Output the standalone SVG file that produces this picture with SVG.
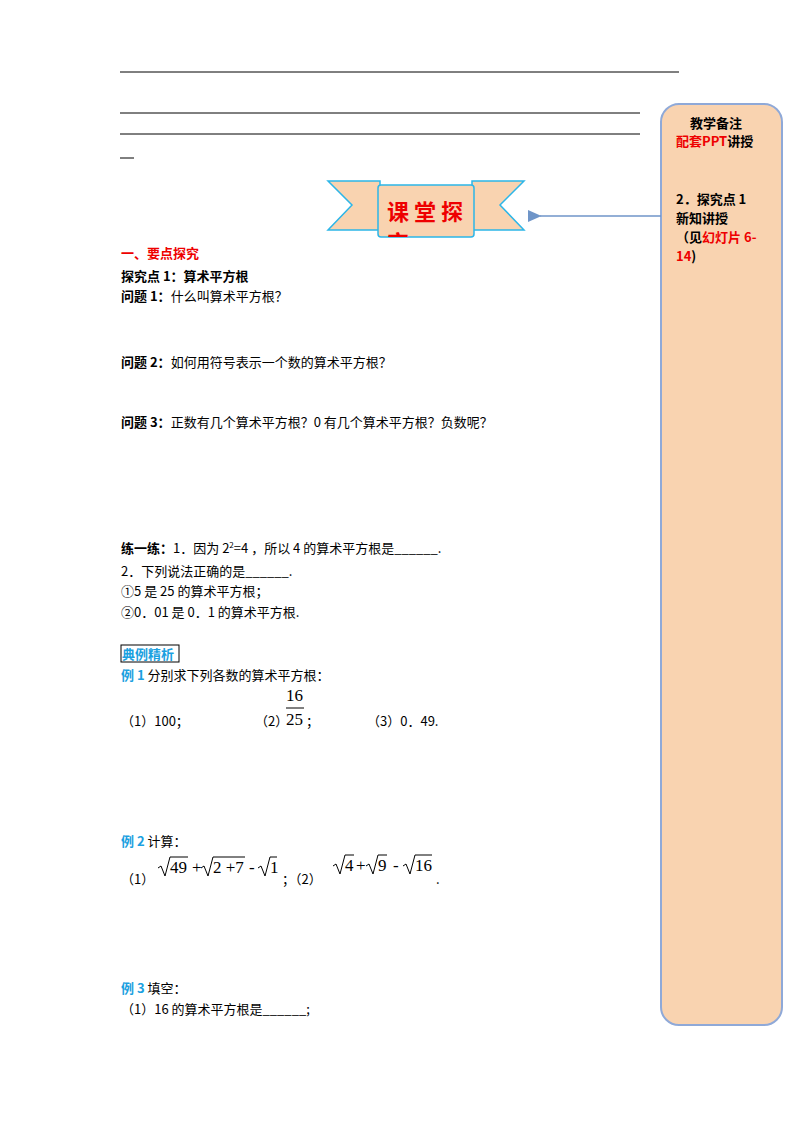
<svg xmlns="http://www.w3.org/2000/svg" width="800" height="1132" viewBox="0 0 800 1132">
<style>
.t{font-family:"Noto Sans CJK SC","Liberation Sans",sans-serif;font-size:13px;fill:#000}
.b{font-weight:bold}
.r{fill:#e00}
.c{fill:#1aa0e0;font-weight:bold}
.m{font-family:"Liberation Serif",serif;font-size:17px}
.ln{stroke:#000;stroke-width:1}
.sq{fill:none;stroke:#000;stroke-width:1}
</style>
<defs><marker id="a" markerWidth="10" markerHeight="8" refX="1" refY="4" orient="auto"><path d="M9,0 L0,4 L9,8 Z" fill="#6f95c8"/></marker>
<clipPath id="cl"><rect x="380" y="229" width="90" height="8"/></clipPath></defs>
<rect width="800" height="1132" fill="#fff"/>
<line class="ln" x1="120" y1="72" x2="679" y2="72" stroke-width="1.5"/>
<line class="ln" x1="120" y1="113" x2="640" y2="113"/>
<line class="ln" x1="120" y1="134" x2="640" y2="134"/>
<line class="ln" x1="120" y1="158" x2="134" y2="158"/>
<g id="sidebar">
<rect x="661" y="104" width="121" height="921" rx="18" fill="#f9d3b0" stroke="#8fa9d8" stroke-width="2"/>
<text class="t b" x="690" y="128">教学备注</text>
<text class="t b" x="676" y="146"><tspan class="r">配套</tspan><tspan class="r">PPT</tspan>讲授</text>
<text class="t b" x="676" y="204">2．探究点 1</text>
<text class="t b" x="676" y="223">新知讲授</text>
<text class="t b" x="676" y="242">（见<tspan class="r">幻灯片 6-</tspan></text>
<text class="t b" x="676" y="261"><tspan class="r">14</tspan>)</text>
</g>
<g id="banner">
<path d="M328,181 L380,181 L380,230 L328,230 L352,205 Z" fill="#f9d3b0" stroke="#2db6e8" stroke-width="1.5"/>
<path d="M524,181 L472,181 L472,230 L524,230 L500,205 Z" fill="#f9d3b0" stroke="#2db6e8" stroke-width="1.5"/>
<rect x="378" y="185" width="96" height="52" rx="3" fill="#f9d3b0" stroke="#2db6e8" stroke-width="1.5"/>
<text x="387" y="220" font-family="Noto Sans CJK SC,sans-serif" font-size="22" font-weight="bold" fill="#e00" letter-spacing="5">课堂探</text>
<text x="387" y="251" font-family="Noto Sans CJK SC,sans-serif" font-size="22" font-weight="bold" fill="#e00" clip-path="url(#cl)">究</text>
</g>
<g id="connectors"><line x1="661" y1="216" x2="540" y2="216" stroke="#6f95c8" stroke-width="1.5" marker-end="url(#a)"/></g>
<text class="t b r" x="121" y="258">一、要点探究</text>
<text class="t b" x="121" y="281">探究点 1：算术平方根</text>
<text class="t" x="121" y="301"><tspan class="b">问题 1：</tspan>什么叫算术平方根？</text>
<text class="t" x="121" y="367"><tspan class="b">问题 2：</tspan>如何用符号表示一个数的算术平方根？</text>
<text class="t" x="121" y="427"><tspan class="b">问题 3：</tspan>正数有几个算术平方根？0 有几个算术平方根？负数呢？</text>
<text class="t" x="121" y="553"><tspan class="b">练一练：</tspan>1．因为 2<tspan font-size="8" dy="-5">2</tspan><tspan dy="5">=4 ，所以 4 的算术平方根是______.</tspan></text>
<text class="t" x="121" y="576">2．下列说法正确的是______.</text>
<text class="t" x="121" y="596">①5 是 25 的算术平方根；</text>
<text class="t" x="121" y="617">②0．01 是 0．1 的算术平方根.</text>
<rect x="121" y="645" width="58" height="17" fill="none" stroke="#000" stroke-width="1"/>
<text class="t c" x="122" y="659">典例精析</text>
<text class="t" x="121" y="680"><tspan class="c">例 1</tspan> 分别求下列各数的算术平方根：</text>
<text class="t" x="121" y="726">（1）100；</text>
<text class="t" x="255" y="726">（2）</text>
<text class="m" x="286" y="701">16</text>
<line class="ln" x1="286" y1="708" x2="304" y2="708"/>
<text class="m" x="286" y="725">25</text>
<text class="t" x="306" y="726">；</text>
<text class="t" x="367" y="726">（3）0．49.</text>
<text class="t" x="121" y="846"><tspan class="c">例 2</tspan> 计算：</text>
<text class="t" x="121" y="884">（1）</text>
<path class="sq" d="M158,868 L161,866 L165,876 L170,857 L188,857"/>
<text class="m" x="170" y="873">49</text>
<text class="m" x="192" y="873">+</text>
<path class="sq" d="M201,868 L204,866 L208,876 L213,857 L245,857"/>
<text class="m" x="213" y="873">2 +7</text>
<text class="m" x="249" y="873">-</text>
<path class="sq" d="M258,868 L261,866 L265,876 L270,857 L277,857"/>
<text class="m" x="270" y="873">1</text>
<text class="t" x="282" y="884">；（2）</text>
<path class="sq" d="M333,866 L336,864 L340,874 L345,855 L354,855"/>
<text class="m" x="345" y="871">4</text>
<text class="m" x="356" y="871">+</text>
<path class="sq" d="M366,866 L369,864 L373,874 L378,855 L387,855"/>
<text class="m" x="378" y="871">9</text>
<text class="m" x="393" y="871">-</text>
<path class="sq" d="M403,866 L406,864 L410,874 L415,855 L432,855"/>
<text class="m" x="415" y="871">16</text>
<text class="t" x="436" y="884">.</text>
<text class="t" x="121" y="993"><tspan class="c">例 3</tspan> 填空：</text>
<text class="t" x="121" y="1014">（1）16 的算术平方根是______;</text>
</svg>
